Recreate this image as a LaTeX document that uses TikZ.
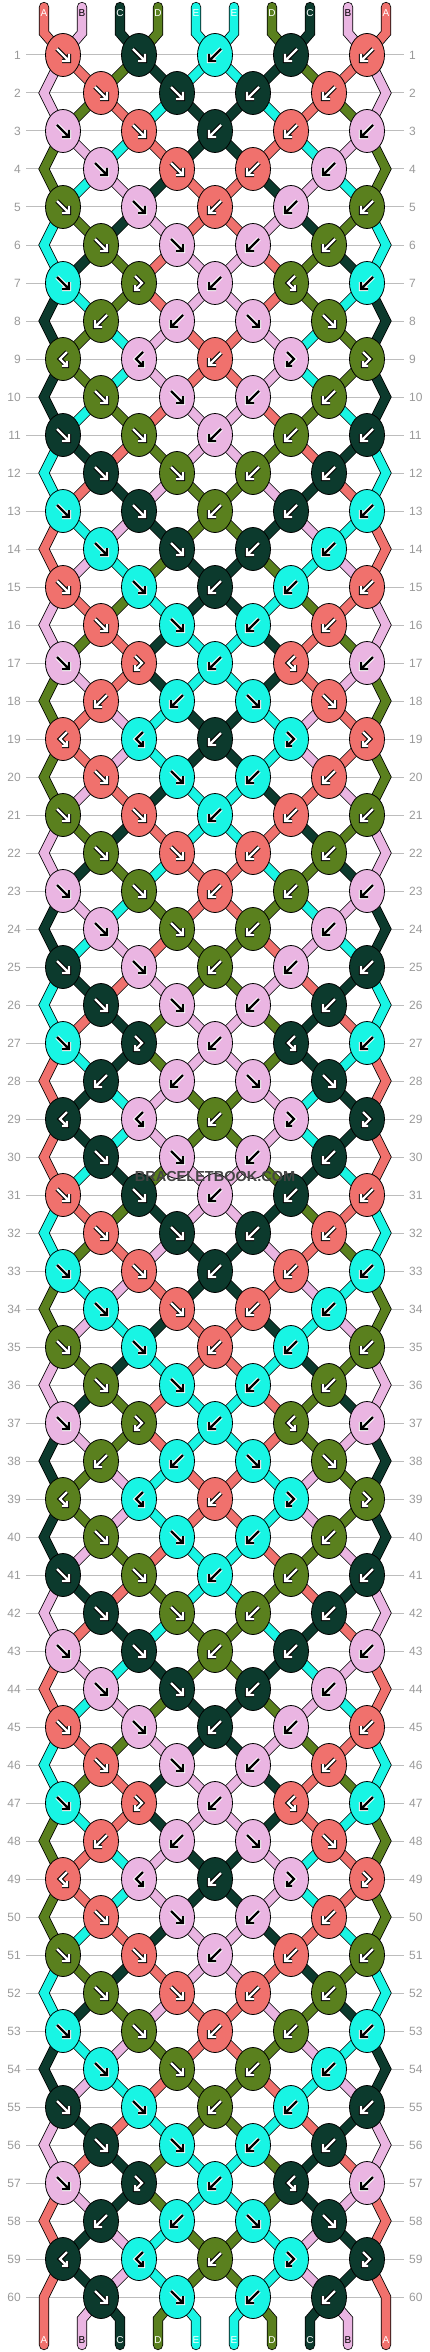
\documentclass[tikz,border=0pt]{standalone}
\usepackage{fontspec}
\setmainfont{Liberation Sans}
\usetikzlibrary{shapes.geometric}
\pgfdeclarelayer{grid}
\pgfdeclarelayer{threads}
\pgfsetlayers{grid,threads,main}
\definecolor{thrA}{HTML}{F0716D}
\definecolor{thrB}{HTML}{EAB5E2}
\definecolor{thrC}{HTML}{0C3A2D}
\definecolor{thrD}{HTML}{5A801E}
\definecolor{thrE}{HTML}{18F5E4}
\colorlet{arrA}{white}\colorlet{arrB}{black}\colorlet{arrC}{white}\colorlet{arrD}{white}\colorlet{arrE}{black}
\colorlet{olnA}{black}\colorlet{olnB}{white}\colorlet{olnC}{black}\colorlet{olnD}{black}\colorlet{olnE}{white}
\colorlet{labA}{white}\colorlet{labB}{black}\colorlet{labC}{white}\colorlet{labD}{white}\colorlet{labE}{white}
\definecolor{rowgray}{HTML}{999999}
\definecolor{linegray}{HTML}{BDBDBD}
\definecolor{markgray}{HTML}{444444}

% strand order after a row: s<row>-<position>
\newcount\pc
\def\storestate#1#2{\global\pc=0 \edef\currow{#1}\expandafter\storechars#2\relax}
\def\storechars#1{\ifx#1\relax\else\global\advance\pc by 1
  \expandafter\xdef\csname s\currow-\the\pc\endcsname{#1}\expandafter\storechars\fi}

% knot type from row (mod 10) and knot column
\def\ktypef{f}\def\ktypefb{fb}
\def\settype#1#2{%
  \ifnum#2<5 \def\kt{f}\else\def\kt{b}\fi
  \ifnum#1=7 \ifcase#2\or\or\or\def\kt{fb}\or\or\or\or\def\kt{bf}\fi\fi
  \ifnum#1=8 \ifnum#2<5 \def\kt{b}\else\def\kt{f}\fi\fi
  \ifnum#1=9 \ifcase#2\or\def\kt{bf}\or\or\def\kt{bf}\or\or\or\or\def\kt{fb}\or\or\def\kt{fb}\fi\fi
  \edef\kside{\ifx\kt\ktypef 0\else\ifx\kt\ktypefb 0\else 1\fi\fi}}

% arrow glyphs
\def\glyphf#1{\draw[arrowline,shift={(#1)}] (-6,-6) -- (6,6) (-1,6) -- (6,6) -- (6,-1);}
\def\glyphb#1{\draw[arrowline,shift={(#1)}] (6,-6) -- (-6,6) (1,6) -- (-6,6) -- (-6,-1);}
\def\glyphfb#1{\draw[arrowline,shift={(#1)}] (-4,-7) -- (3,0) -- (-4,7) (1,7) -- (-4,7) -- (-4,2);}
\def\glyphbf#1{\draw[arrowline,shift={(#1)}] (4,-7) -- (-3,0) -- (4,7) (-1,7) -- (4,7) -- (4,2);}

\begin{document}
\begin{tikzpicture}[x=1pt,y=-1pt,
    thread/.style={draw=black,line width=0.8,double=#1,double distance=8.6,line cap=round,line join=miter},
    knot/.style={ellipse,draw=black,line width=0.8,minimum width=35,minimum height=43,inner sep=0},
    arrowline/.style={draw=arrcol,line width=2.4,preaction={draw=olcol,line width=4.4}},
    rownum/.style={text=rowgray,inner sep=0,font=\fontsize{12}{12}\selectfont},
    endlabel/.style={inner sep=0,font=\fontsize{10}{10}\selectfont},
    watermark/.style={text=markgray,font=\fontsize{14.5}{14.5}\selectfont\bfseries}]

    % strand order, row 0 is the start
    \foreach \strands [count=\r from 0] in {ABCDEEDCBA,
        BADCEECDAB,BDAECCEADB,DBEACCAEBD,DEBCAACBED,EDCBAABCDE,
        ECDABBADCE,CEDABBADEC,CDEBAABEDC,CDEBAABEDC,CEDABBADEC,
        ECADBBDACE,EACBDDBCAE,AEBCDDCBEA,ABEDCCDEBA,BADECCEDAB,
        BDACEECADB,DBACEECABD,DABECCEBAD,DABECCEBAD,DBACEECABD,
        BDCAEEACDB,BCDEAAEDCB,CBEDAADEBC,CEBADDABEC,ECABDDBACE,
        EACDBBDCAE,AECDBBDCEA,ACEBDDBECA,ACEBDDBECA,AECDBBDCEA,
        EADCBBCDAE,EDABCCBADE,DEBACCABED,DBECAACEBD,BDCEAAECDB,
        BCDAEEADCB,CBDAEEADBC,CDBEAAEBDC,CDBEAAEBDC,CBDAEEADBC,
        BCADEEDACB,BACEDDECAB,ABECDDCEBA,AEBDCCDBEA,EADBCCBDAE,
        EDACBBCADE,DEACBBCAED,DAEBCCBEAD,DAEBCCBEAD,DEACBBCAED,
        EDCABBACDE,ECDBAABDCE,CEBDAADBEC,CBEADDAEBC,BCAEDDEACB,
        BACDEEDCAB,ABCDEEDCBA,ACBEDDEBCA,ACBEDDEBCA,ABCDEEDCBA}{
        \storestate{\r}{\strands}
    }

    \useasboundingbox (0,0) rectangle (430,2352);

    % row lines and numbers
    \begin{pgfonlayer}{grid}
    \foreach \r in {1,...,60}{
        \pgfmathsetmacro\y{55+38*(\r-1)}
        \draw[linegray,line width=1] (26,\y) -- (404,\y);
    }
    \end{pgfonlayer}
    \foreach \r in {1,...,60}{
        \pgfmathsetmacro\y{55+38*(\r-1)}
        \node[rownum,anchor=east] (lnum\r) at (21,\y) {\r};
        \node[rownum,anchor=west] (rnum\r) at (409,\y) {\r};
    }

    % knots
    \foreach \r in {1,...,60}{
        \pgfmathsetmacro\y{55+38*(\r-1)}
        \pgfmathtruncatemacro\m{mod(\r,10)}
        \pgfmathtruncatemacro\rp{\r-1}
        \coordinate (k\r-0) at (44,\y);
        \coordinate (k\r-10) at (386,\y);
        \foreach \c in {1,...,9}{
            \pgfmathtruncatemacro\skipit{mod(\c+\r,2)}
            \ifnum\skipit=0
                \settype{\m}{\c}
                \pgfmathtruncatemacro\pos{\c+\kside}
                \edef\strandcol{\csname s\rp-\pos\endcsname}
                \node[knot,fill=thr\strandcol] (k\r-\c) at ({25+38*\c},\y) {};
                \colorlet{arrcol}{arr\strandcol}\colorlet{olcol}{oln\strandcol}
                \csname glyph\kt\endcsname{k\r-\c}
            \fi
        }
    }

    % threads between knots
    \begin{pgfonlayer}{threads}
    \foreach \p in {1,...,10}{
        \coordinate (top\p) at ({6+38*\p},7);
        \coordinate (tb\p) at ({6+38*\p},33);
        \coordinate (bb\p) at ({6+38*\p},2319);
        \coordinate (bot\p) at ({6+38*\p},2345);
    }
    \foreach \r in {0,...,60}{
        \pgfmathtruncatemacro\rb{\r+1}
        \pgfmathtruncatemacro\rc{\r+2}
        \foreach \p in {1,...,10}{
            \edef\strandcol{\csname s\r-\p\endcsname}
            \pgfmathtruncatemacro\ca{\p-mod(\p+\r,2)}
            \pgfmathtruncatemacro\cb{\p-mod(\p+\rb,2)}
            \pgfmathtruncatemacro\edgea{(\ca==0)||(\ca==10)}
            \pgfmathtruncatemacro\edgeb{(\cb==0)||(\cb==10)}
            \ifnum\r=0
                \draw[thread=thr\strandcol] (top\p) -- (tb\p) -- (k1-\cb.center);
            \else\ifnum\r=60
                \ifnum\edgea=0 \draw[thread=thr\strandcol] (k60-\ca.center) -- (bb\p) -- (bot\p);\fi
            \else\ifnum\edgea=0
                \ifnum\edgeb=1
                    \ifnum\rb=60
                        \draw[thread=thr\strandcol] (k\r-\ca.center) -- (k60-\cb) -- (bot\p);
                    \else
                        \draw[thread=thr\strandcol] (k\r-\ca.center) -- (k\rb-\cb) -- (k\rc-\ca.center);
                    \fi
                \else
                    \draw[thread=thr\strandcol] (k\r-\ca.center) -- (k\rb-\cb.center);
                \fi
            \fi\fi\fi
        }
    }
    \end{pgfonlayer}

    % strand letters
    \foreach \p in {1,...,10}{
        \edef\strandcol{\csname s0-\p\endcsname}
        \node[endlabel,text=lab\strandcol] (ltop\p) at ({6+38*\p},13) {\strandcol};
        \node[endlabel,text=lab\strandcol] (lbot\p) at ({6+38*\p},2340) {\strandcol};
    }

    \node[watermark] (mark) at (215,1176) {BRACELETBOOK.COM};
\end{tikzpicture}
\end{document}
